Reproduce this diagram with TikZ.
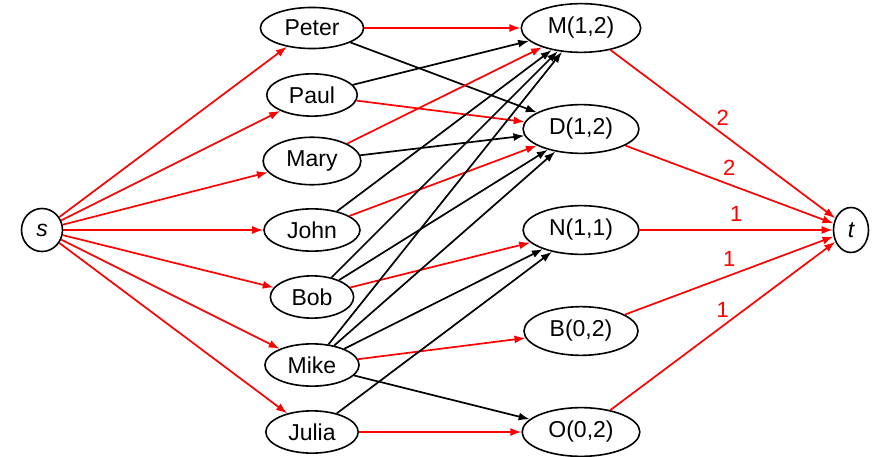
\documentclass[tikz,border=0pt]{standalone}
\usepackage{fontspec}
\setmainfont{Liberation Sans}
\usetikzlibrary{arrows.meta,shapes.geometric}
\begin{document}
\begin{tikzpicture}[x=1pt,y=-1pt,
  vert/.style={ellipse, draw, line width=1.6pt, inner xsep=9pt, inner ysep=6.5pt,
    font=\fontsize{23}{27}\selectfont},
  term/.style={vert, inner sep=0pt, font=\fontsize{23}{27}\selectfont\itshape},
  matched/.style={draw=red, line width=1.7pt, -{Latex[length=11pt,width=8pt]}},
  plain/.style={draw=black, line width=1.7pt, -{Latex[length=11pt,width=8pt]}},
  caplabel/.style={midway, above=5pt, text=red, inner sep=3pt, font=\fontsize{22}{26}\selectfont}
]
\useasboundingbox (0,0) rectangle (872,457);

% source and sink
\node[term, minimum width=41pt, minimum height=43pt] (s) at (42,230) {s};
\node[term, minimum width=35pt, minimum height=45pt] (t) at (851,230) {t};

% people
\node[vert] (peter) at (312,28)  {Peter};
\node[vert] (paul)  at (312,95)  {Paul};
\node[vert] (mary)  at (312,161) {Mary};
\node[vert] (john)  at (312,230) {John};
\node[vert] (bob)   at (312,297) {Bob};
\node[vert] (mike)  at (312,365) {Mike};
\node[vert] (julia) at (312,432) {Julia};

% slots
\node[vert] (M) at (581,28)  {M(1,2)};
\node[vert] (D) at (581,129) {D(1,2)};
\node[vert] (N) at (581,230) {N(1,1)};
\node[vert] (B) at (581,331) {B(0,2)};
\node[vert] (O) at (581,432) {O(0,2)};

% source to people
\foreach \p in {peter,paul,mary,john,bob,mike,julia}
  \draw[matched] (s) -- (\p);

% people to slots
\draw[matched] (peter) -- (M);
\draw[plain]   (peter) -- (D);
\draw[plain]   (paul)  -- (M);
\draw[matched] (paul)  -- (D);
\draw[matched] (mary)  -- (M);
\draw[plain]   (mary)  -- (D);
\draw[plain]   (john)  -- (M);
\draw[matched] (john)  -- (D);
\draw[plain]   (bob)   -- (M);
\draw[plain]   (bob)   -- (D);
\draw[matched] (bob)   -- (N);
\draw[plain]   (mike)  -- (M);
\draw[plain]   (mike)  -- (D);
\draw[plain]   (mike)  -- (N);
\draw[matched] (mike)  -- (B);
\draw[plain]   (mike)  -- (O);
\draw[plain]   (julia) -- (N);
\draw[matched] (julia) -- (O);

% slots to sink
\draw[matched] (M) -- (t) node[caplabel] {2};
\draw[matched] (D) -- (t) node[caplabel] {2};
\draw[matched] (N) -- (t) node[caplabel] {1};
\draw[matched] (B) -- (t) node[caplabel] {1};
\draw[matched] (O) -- (t) node[caplabel] {1};
\end{tikzpicture}
\end{document}
